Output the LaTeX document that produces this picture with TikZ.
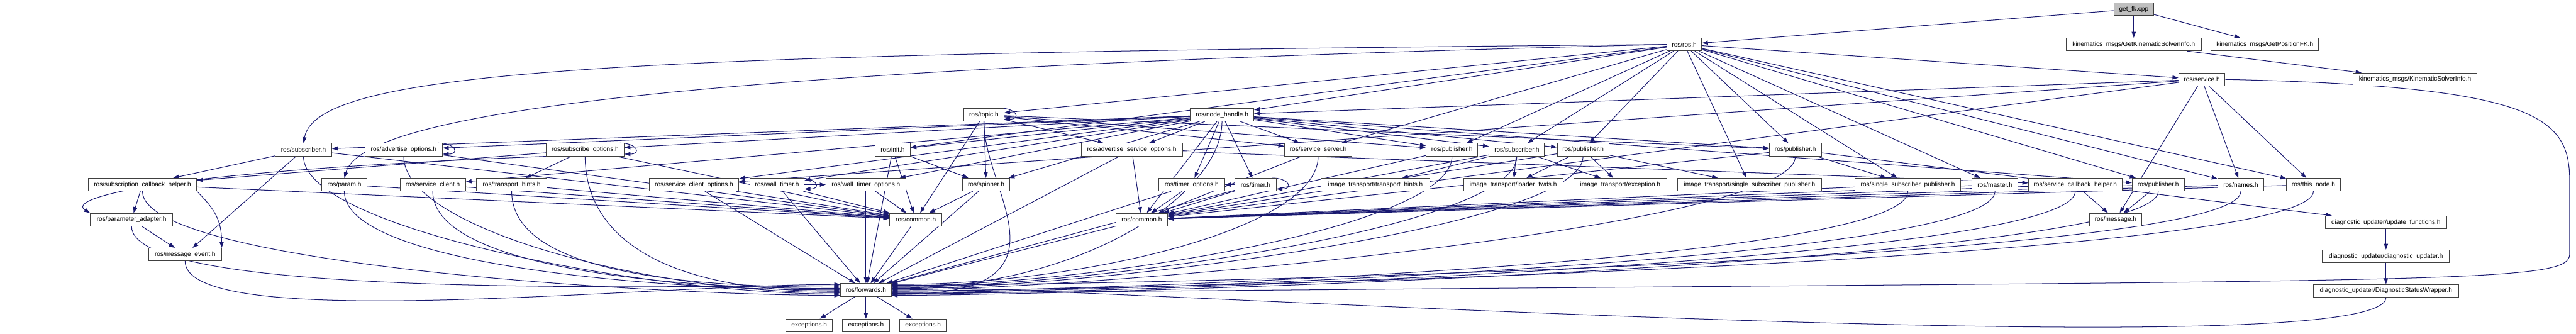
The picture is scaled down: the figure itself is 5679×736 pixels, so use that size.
\documentclass[tikz,border=0pt]{standalone}
\usepackage{fontspec}
\setmainfont{Liberation Sans}
\usetikzlibrary{arrows.meta,backgrounds}
\definecolor{edgecol}{HTML}{191970}
\definecolor{bordercol}{HTML}{404040}
\definecolor{rootfill}{HTML}{BFBFBF}
\newcommand\dxloop[1]{\draw[edg] ([xshift=-10pt]#1.north east) .. controls +(38,0) and +(38,0) .. ([yshift=5pt]#1.south east);}
\begin{document}
\begin{tikzpicture}[x=1pt,y=-1pt,
 box/.style={draw=bordercol, fill=white, line width=1.3pt, minimum height=28pt, inner sep=0pt, font=\fontsize{14}{16}\selectfont},
 edg/.style={draw=edgecol, line width=1.4pt, -{Triangle[length=13pt,width=9pt]}},
]
\useasboundingbox (0,0) rectangle (5679,736);
% row 0-2
\node[box, fill=rootfill, minimum width=88pt] (getfk) at (4704,20) {get\_fk.cpp};
\node[box, minimum width=77pt] (ros) at (3713,98) {ros/ros.h};
\node[box, minimum width=298pt] (gksi) at (4704,98) {kinematics\_msgs/GetKinematicSolverInfo.h};
\node[box, minimum width=237pt] (gpfk) at (4993,98) {kinematics\_msgs/GetPositionFK.h};
\node[box, minimum width=102pt] (service) at (4854,175) {ros/service.h};
\node[box, minimum width=274pt] (ksi) at (5324,175) {kinematics\_msgs/KinematicSolverInfo.h};
\node[box, minimum width=88pt] (topic) at (2169,253) {ros/topic.h};
\node[box, minimum width=140pt] (nh) at (2694,253) {ros/node\_handle.h};
% row 330
\node[box, minimum width=124pt] (subA) at (669,330) {ros/subscriber.h};
\node[box, minimum width=171pt] (advopt) at (890,330) {ros/advertise\_options.h};
\node[box, minimum width=172pt] (subopt) at (1290,330) {ros/subscribe\_options.h};
\node[box, minimum width=77pt] (init) at (1968,330) {ros/init.h};
\node[box, minimum width=223pt] (advsrv) at (2495,330) {ros/advertise\_service\_options.h};
\node[box, minimum width=148pt] (srvserver) at (2906,330) {ros/service\_server.h};
\node[box, minimum width=114pt] (pub1) at (3201,330) {ros/publisher.h};
\node[box, minimum width=122pt] (subB) at (3344,330) {ros/subscriber.h};
\node[box, minimum width=114pt] (pub2) at (3490,330) {ros/publisher.h};
\node[box, minimum width=115pt] (pub3) at (3958,330) {ros/publisher.h};
% row 407
\node[box, minimum width=239pt] (subcb) at (314,407) {ros/subscription\_callback\_helper.h};
\node[box, minimum width=100pt] (param) at (759,407) {ros/param.h};
\node[box, minimum width=144pt] (srvclient) at (954,407) {ros/service\_client.h};
\node[box, minimum width=155pt] (thints) at (1128,407) {ros/transport\_hints.h};
\node[box, minimum width=197pt] (srvcliopt) at (1530,407) {ros/service\_client\_options.h};
\node[box, minimum width=120pt] (wtimer) at (1713,407) {ros/wall\_timer.h};
\node[box, minimum width=176pt] (wtopt) at (1909,407) {ros/wall\_timer\_options.h};
\node[box, minimum width=103pt] (spinner) at (2174,407) {ros/spinner.h};
\node[box, minimum width=145pt] (timopt) at (2627,407) {ros/timer\_options.h};
\node[box, minimum width=91pt] (timer) at (2768,407) {ros/timer.h};
\node[box, minimum width=239pt] (itth) at (3032,407) {image\_transport/transport\_hints.h};
\node[box, minimum width=219pt] (itlf) at (3336,407) {image\_transport/loader\_fwds.h};
\node[box, minimum width=206pt] (itexc) at (3572,407) {image\_transport/exception.h};
\node[box, minimum width=317pt] (itssp) at (3857,407) {image\_transport/single\_subscriber\_publisher.h};
\node[box, minimum width=233pt] (ssp) at (4206,407) {ros/single\_subscriber\_publisher.h};
\node[box, minimum width=102pt] (master) at (4398,407) {ros/master.h};
\node[box, minimum width=206pt] (srvcb) at (4575,407) {ros/service\_callback\_helper.h};
\node[box, minimum width=115pt] (pub4) at (4758,407) {ros/publisher.h};
\node[box, minimum width=101pt] (names) at (4940,407) {ros/names.h};
\node[box, minimum width=118pt] (thisnode) at (5100,407) {ros/this\_node.h};
% row 484
\node[box, minimum width=182pt] (padapt) at (290,484) {ros/parameter\_adapter.h};
\node[box, minimum width=115pt] (common1) at (2019,484) {ros/common.h};
\node[box, minimum width=114pt] (common2) at (2517,484) {ros/common.h};
\node[box, minimum width=116pt] (message) at (4664,484) {ros/message.h};
\node[box, minimum width=268pt] (updfn) at (5260,490) {diagnostic\_updater/update\_functions.h};
% row 561
\node[box, minimum width=160pt] (msgev) at (408,561) {ros/message\_event.h};
\node[box, minimum width=280pt] (diagupd) at (5260,565) {diagnostic\_updater/diagnostic\_updater.h};
% row 639
\node[box, minimum width=112pt] (fwd) at (1909,639) {ros/forwards.h};
\node[box, minimum width=320pt] (dsw) at (5260,641) {diagnostic\_updater/DiagnosticStatusWrapper.h};
% row 717
\node[box, minimum width=103pt] (exc1) at (1784,717) {exceptions.h};
\node[box, minimum width=103pt] (exc2) at (1909,717) {exceptions.h};
\node[box, minimum width=103pt] (exc3) at (2035,717) {exceptions.h};

\begin{pgfonlayer}{background}
% top
\draw[edg] (getfk) -- (ros);
\draw[edg] (getfk) -- (gksi);
\draw[edg] (getfk) -- (gpfk);
\draw[edg] (gksi) -- (ksi);
% ros.h
\foreach \t in {service,nh,topic,init,pub1,subB,pub2,pub3,srvserver,itssp,ssp,master,pub4,names,thisnode}
  \draw[edg] (ros) -- (\t);
\draw[edg] (ros.west) .. controls (1400,118) and (700,150) .. (subA.north);
\draw[edg] (ros.west) .. controls (1500,150) and (800,250) .. (param.north);
% service.h
\foreach \t in {nh,names,thisnode,message,common2,srvcliopt}
  \draw[edg] (service) -- (\t);
\draw[edg] (service.east) .. controls (5600,190) and (5665,260) .. (5665,400) -- (5665,560) .. controls (5665,630) and (5400,615) .. ([yshift=-8pt]fwd.east);
% node_handle.h
\foreach \t in {subA,advopt,subopt,init,advsrv,srvserver,pub1,subB,pub2,pub3,srvclient,srvcliopt,wtimer,wtopt,spinner,timopt,timer,pub4,common2}
  \draw[edg] (nh) -- (\t);
% topic.h
\foreach \t in {spinner,common1,advsrv,srvserver,pub1,pub3}
  \draw[edg] (topic) -- (\t);
\dxloop{topic}
\dxloop{advopt}
\dxloop{subopt}
\dxloop{wtimer}
\dxloop{timer}
% others
\draw[edg] (init) -- (spinner);
\draw[edg] (subA) -- (subcb);
\draw[edg] (subA) -- (msgev);
\draw[edg] (subopt) -- (subcb);
\draw[edg] (subopt) -- (thints);
\draw[edg] (subopt.south west) .. controls (300,380) and (150,440) .. (padapt.north west);
\draw[edg] (subcb) -- (padapt);
\draw[edg] (subcb.south east) .. controls +(40,40) and +(0,-60) .. (msgev.north east);
\draw[edg] (padapt) -- (msgev);
\draw[edg] (wtimer) -- (wtopt);
\draw[edg] (timer) -- (timopt);
\draw[edg] (advsrv) -- (srvcb);
\draw[edg] (subB) -- (itlf);
\draw[edg] (subB) -- (itexc);
\draw[edg] (subB) -- (itth);
\draw[edg] (pub2) -- (itlf);
\draw[edg] (pub2) -- (itexc);
\draw[edg] (pub2) -- (itssp);
\draw[edg] (pub3) -- (ssp);
\draw[edg] (pub3) -- (updfn);
\draw[edg] (srvcb) -- (message);
\draw[edg] (pub4) -- (message);
\draw[edg] (updfn) -- (diagupd);
\draw[edg] (diagupd) -- (dsw);
% to common.h (left)
\foreach \s in {subA,advopt,subopt,param,srvclient,thints,srvcliopt,wtimer,wtopt,init,spinner,subcb}
  \draw[edg] (\s) -- (common1);
% to common.h (right)
\foreach \s in {advsrv,srvserver,timopt,timer,pub1,subB,pub2,pub3,ssp,master,srvcb,pub4,names,thisnode}
  \draw[edg] (\s) -- (common2);
% to forwards.h
\foreach \s/\o in {subA/-9,advopt/-6,subopt/-3,param/0,srvclient/3,thints/6,subcb/-12,padapt/9,msgev/12}
  \draw[edg] (\s.south) .. controls +(0,160) and +(-420,0) .. ([yshift=\o pt]fwd.west);
\foreach \s in {srvcliopt,wtimer,wtopt,common1,spinner,init,timopt,timer,common2,advsrv}
  \draw[edg] (\s) -- (fwd);
\foreach \s/\o in {srvserver/12,pub1/9,subB/6,pub2/3,pub3/0,ssp/-3,master/-6,srvcb/-9,pub4/-12,names/10,thisnode/-2,nh/4,topic/-10,dsw/7}
  \draw[edg] (\s.south) .. controls +(0,160) and +(420,0) .. ([yshift=\o pt]fwd.east);
\draw[edg] (fwd) -- (exc1);
\draw[edg] (fwd) -- (exc2);
\draw[edg] (fwd) -- (exc3);
\end{pgfonlayer}
\end{tikzpicture}
\end{document}
